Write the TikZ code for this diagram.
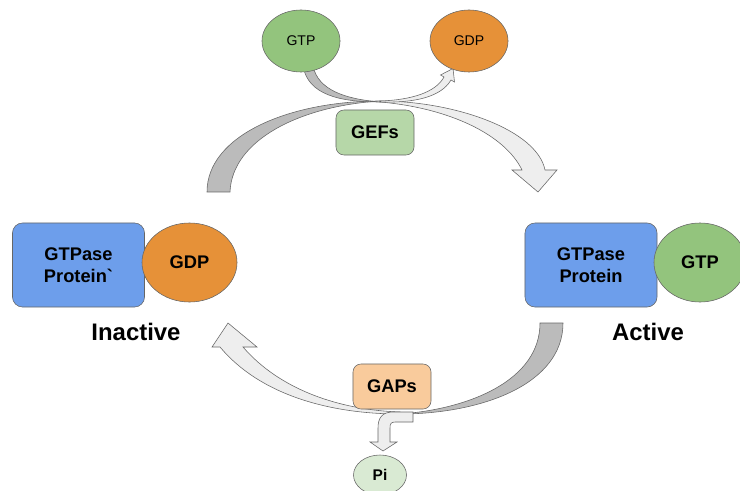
\documentclass[tikz,border=0pt]{standalone}
\usepackage{fontspec}
\setmainfont{Liberation Sans}
\usetikzlibrary{shapes.geometric}
\definecolor{protblue}{HTML}{6D9EEB}
\definecolor{gdporange}{HTML}{E69138}
\definecolor{gtpgreen}{HTML}{93C47D}
\definecolor{gefgreen}{HTML}{B6D7A8}
\definecolor{gappeach}{HTML}{F9CB9C}
\definecolor{pigreen}{HTML}{D9EAD3}
\definecolor{bandgray}{HTML}{BBBBBB}
\definecolor{bandlight}{HTML}{EEEEEE}
\definecolor{edgegray}{HTML}{666666}
\begin{document}
\begin{tikzpicture}[x=0.025cm, y=-0.025cm,
	protein/.style={draw=edgegray, fill=protblue, rounded corners=0.25cm, minimum width=3.3cm, minimum height=2.1cm, align=center, font=\bfseries\fontsize{13}{15.6}\selectfont},
	nucl/.style={ellipse, draw=edgegray, inner sep=0pt},
	enzyme/.style={draw=edgegray, rounded corners=0.2cm, minimum width=1.95cm, minimum height=1.125cm, font=\bfseries\fontsize{13}{15.6}\selectfont},
	state/.style={font=\bfseries\fontsize{17}{20}\selectfont},
	band back/.style={draw=edgegray, fill=bandgray, line width=0.4pt},
	band front/.style={draw=edgegray, fill=bandlight, line width=0.4pt}]
		\useasboundingbox (0,0) rectangle (740,491);
		\clip (0,0) rectangle (740,491);
		% GEFs arc
		\filldraw[band back] (207,192) .. controls (207,135) and (290,101) .. (380,101) .. controls (300,106) and (232,140) .. (230,192) -- cycle;
		\filldraw[band front] (380,101) .. controls (455,101) and (537,130) .. (545,170) -- (557,170) -- (538,192) -- (512,170) -- (522,170) .. controls (505,135) and (450,108) .. (380,102) -- cycle;
		% GTP in, GDP out
		\filldraw[band back] (303,66) .. controls (308,95) and (340,102) .. (380,102) .. controls (345,99) and (318,90) .. (313,66) -- cycle;
		\filldraw[band front] (380,101) .. controls (412,100) and (436,92) .. (444,77) -- (440.5,75) -- (453,68.5) -- (454.5,82) -- (451,80) .. controls (441,97) and (415,103) .. (380,102) -- cycle;
		% GAPs arc
		\filldraw[band back] (563,323) .. controls (563,385) and (480,414) .. (400,414) .. controls (470,409) and (540,380) .. (540,323) -- cycle;
		\filldraw[band front] (400,414) .. controls (330,414) and (260,395) .. (220,347) -- (212,347) -- (228,323) -- (257,347) -- (243,347) .. controls (280,390) and (340,410) .. (400,412) -- cycle;
		% Pi out
		\filldraw[band front] (413,412) -- (393,412) .. controls (382,412) and (378,418) .. (378,428) -- (378,442) -- (370,442) -- (383,451) -- (397,442) -- (390,442) -- (390,428) .. controls (390,424) and (391,422) .. (395,422) -- (413,422) -- cycle;
		% Proteins
		\node[protein] (leftprot) at (78.5,265) {GTPase\\Protein\textasciigrave};
		\node[nucl, fill=gdporange, minimum width=2.375cm, minimum height=1.975cm, font=\bfseries\fontsize{13}{15.6}\selectfont] (leftgdp) at (189.5,262.5) {GDP};
		\node[protein] (rightprot) at (591,265) {GTPase\\Protein};
		\node[nucl, fill=gtpgreen, minimum width=2.3cm, minimum height=1.975cm, font=\bfseries\fontsize{13}{15.6}\selectfont] (rightgtp) at (700,262.5) {GTP};
		% Free nucleotides
		\node[nucl, fill=gtpgreen, minimum width=1.95cm, minimum height=1.55cm, font=\fontsize{10}{12}\selectfont] (topgtp) at (301,41) {GTP};
		\node[nucl, fill=gdporange, minimum width=1.95cm, minimum height=1.55cm, font=\fontsize{10}{12}\selectfont] (topgdp) at (469,41) {GDP};
		\node[nucl, fill=pigreen, minimum width=1.325cm, minimum height=1.0cm, font=\bfseries\fontsize{11}{13}\selectfont] (pi) at (380,475) {Pi};
		% Enzymes
		\node[enzyme, fill=gefgreen] (gefs) at (375,132.5) {GEFs};
		\node[enzyme, fill=gappeach] (gaps) at (392,386.5) {GAPs};
		% Labels
		\node[state] (inactive) at (136,332) {Inactive};
		\node[state] (active) at (648,332) {Active};
	\end{tikzpicture}
\end{document}
